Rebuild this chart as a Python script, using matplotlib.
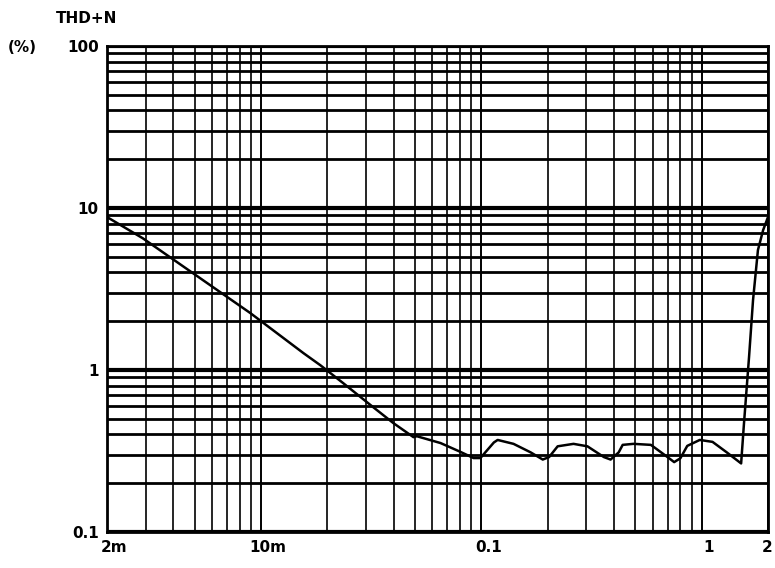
import matplotlib
matplotlib.use("Agg")
import matplotlib.pyplot as plt
import matplotlib.transforms as mtransforms
from matplotlib.ticker import FixedLocator, LogLocator, NullFormatter

# Data (output level, THD+N %)
x_vals = [0.002, 0.00291, 0.0057, 0.00893, 0.0156, 0.0186, 0.0236, 0.0313, 0.0399,
          0.0492, 0.051, 0.0653, 0.0805, 0.0922, 0.099, 0.114, 0.1186, 0.14, 0.1675,
          0.19, 0.203, 0.222, 0.262, 0.303, 0.36, 0.386, 0.42, 0.438, 0.49, 0.588,
          0.70, 0.75, 0.80, 0.86, 0.98, 1.12, 1.3, 1.51, 1.556, 1.64, 1.71, 1.80,
          1.90, 2.0]
thd_vals = [8.8, 6.5, 3.44, 2.25, 1.27, 1.07, 0.83, 0.61, 0.47,
            0.385, 0.39, 0.354, 0.312, 0.286, 0.286, 0.357, 0.37, 0.35, 0.31,
            0.28, 0.29, 0.338, 0.35, 0.338, 0.29, 0.28, 0.31, 0.345, 0.35, 0.345,
            0.29, 0.27, 0.285, 0.34, 0.37, 0.36, 0.31, 0.265, 0.47, 1.2, 2.7, 5.5,
            7.3, 8.8]

x_ticks = [0.002, 0.01, 0.1, 1, 2]
x_tick_labels = ["2m", "10m", "0.1", "1", "2"]
y_ticks = [0.1, 1, 10, 100]
y_tick_labels = ["0.1", "1", "10", "100"]

fig = plt.figure(figsize=(7.75, 5.68), dpi=100)
ax = fig.add_axes([0.138, 0.0634, 0.853, 0.8556])
ax.set_xscale("log")
ax.set_yscale("log")
ax.set_xlim(0.002, 2)
ax.set_ylim(0.1, 100)

ax.plot(x_vals, thd_vals, color="black", lw=1.8, zorder=5)

ax.xaxis.set_major_locator(FixedLocator(x_ticks))
ax.set_xticklabels(x_tick_labels)
ax.xaxis.set_minor_locator(LogLocator(base=10, subs=range(2, 10), numticks=20))
ax.xaxis.set_minor_formatter(NullFormatter())
ax.yaxis.set_major_locator(FixedLocator(y_ticks))
ax.set_yticklabels(y_tick_labels)
ax.yaxis.set_minor_locator(LogLocator(base=10, subs=range(2, 10), numticks=20))
ax.yaxis.set_minor_formatter(NullFormatter())

ax.grid(True, which="major", axis="x", color="black", lw=1.4)
ax.grid(True, which="minor", axis="x", color="black", lw=1.2)
ax.grid(True, which="major", axis="y", color="black", lw=3.0)
ax.grid(True, which="minor", axis="y", color="black", lw=2.0)

ax.tick_params(which="both", length=0, labelsize=11, pad=6)
shift = mtransforms.ScaledTranslation(7 / 100, 0, fig.dpi_scale_trans)
xlabs = ax.get_xticklabels()
for i, lab in enumerate(xlabs):
    lab.set_fontweight("bold")
    if i < len(xlabs) - 1:
        lab.set_transform(lab.get_transform() + shift)
    else:
        lab.set_horizontalalignment("right")
        lab.set_transform(lab.get_transform()
                          + mtransforms.ScaledTranslation(4 / 100, 0, fig.dpi_scale_trans))
for lab in ax.get_yticklabels():
    lab.set_fontweight("bold")
for s in ax.spines.values():
    s.set_linewidth(2.0)

fig.text(0.072, 0.968, "THD+N", fontsize=11, fontweight="bold", ha="left", va="center")
fig.text(0.01, 0.917, "(%)", fontsize=11, fontweight="bold", ha="left", va="center")

fig.savefig("out.png", dpi=100)
